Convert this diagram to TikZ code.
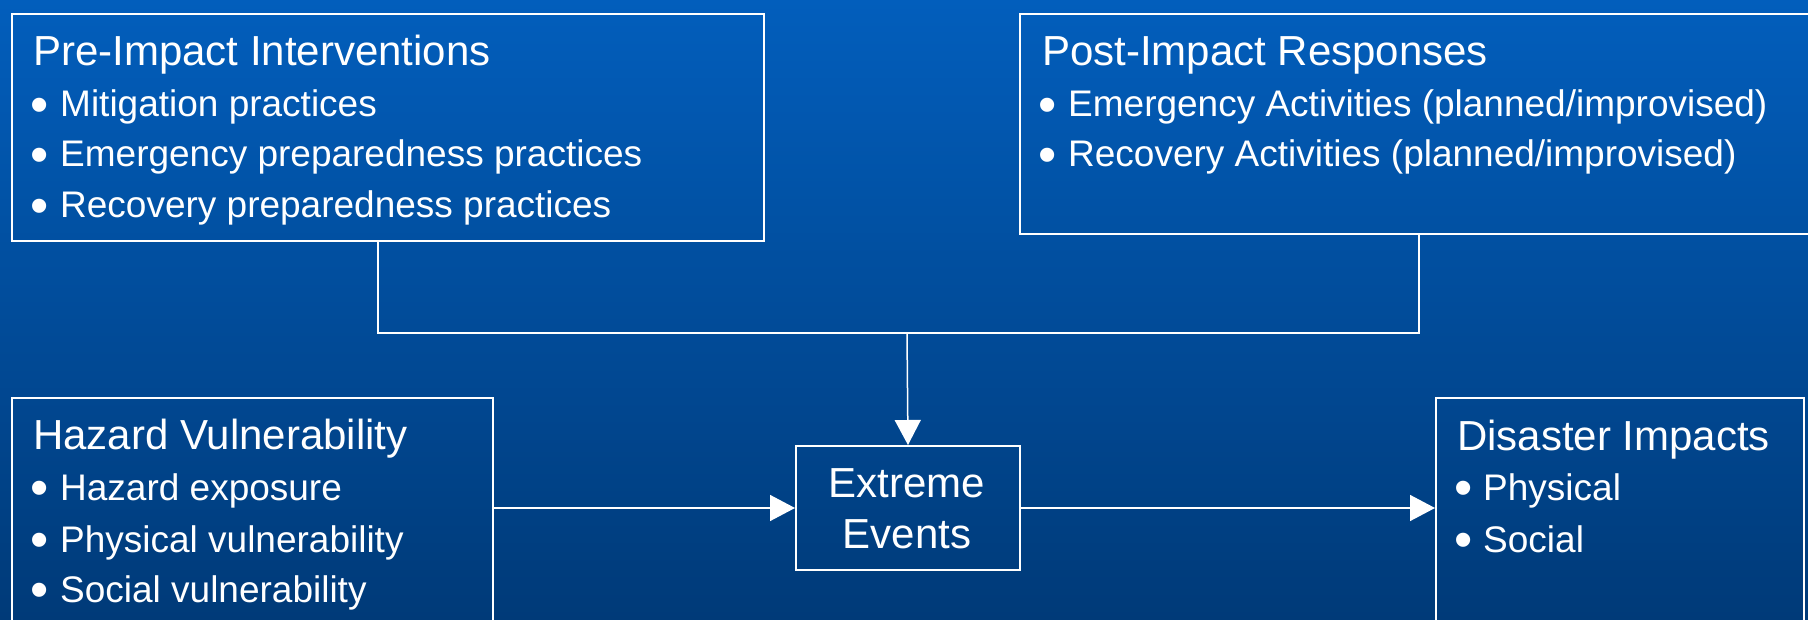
\documentclass[tikz,border=0pt]{standalone}
\usepackage{fontspec}
\setmainfont{Liberation Sans}
\usetikzlibrary{arrows.meta}
\definecolor{bgtop}{RGB}{2,94,188}
\definecolor{bgbot}{RGB}{0,58,120}
\begin{document}
\begin{tikzpicture}[x=1pt,y=-1pt,
  box/.style={draw=white, line width=2pt, inner sep=0pt, anchor=north west},
  ttl/.style={anchor=base west, inner sep=0pt, text=white, font=\fontsize{42}{50}\selectfont},
  itm/.style={anchor=base west, inner sep=0pt, text=white, font=\fontsize{37}{45}\selectfont},
  bul/.style={anchor=base west, inner sep=0pt, text=white, yshift=-5.5pt, xshift=-1.5pt, font=\fontsize{52}{60}\selectfont},
  conn/.style={draw=white, line width=1.5pt},
  arr/.style={conn, -{Triangle[length=25pt,width=26pt]}}
]
\shade[top color=bgtop, bottom color=bgbot] (0,0) rectangle (1808,620);
\useasboundingbox (0,0) rectangle (1808,620);

% boxes
\node[box, minimum width=752pt, minimum height=227pt] (pre) at (10.7,12.7) {};
\node[box, minimum width=795pt, minimum height=220pt] (post) at (1019,12.7) {};
\node[box, minimum width=481pt, minimum height=240pt] (haz) at (10.7,396.7) {};
\node[box, minimum width=224pt, minimum height=124pt] (ext) at (795,445) {};
\node[box, minimum width=368pt, minimum height=240pt] (dis) at (1435,397) {};

% box 1 text
\node[ttl] (preT) at (33,66) {Pre-Impact Interventions};
\node[bul] (preB1) at (32,117) {•};
\node[itm] (preI1) at (60,117) {Mitigation practices};
\node[bul] (preB2) at (32,167) {•};
\node[itm] (preI2) at (60,167) {Emergency preparedness practices};
\node[bul] (preB3) at (32,218) {•};
\node[itm] (preI3) at (60,218) {Recovery preparedness practices};

% box 2 text
\node[ttl] (postT) at (1042,66) {Post-Impact Responses};
\node[bul] (postB1) at (1040,117) {•};
\node[itm] (postI1) at (1068,117) {Emergency Activities (planned/improvised)};
\node[bul] (postB2) at (1040,167) {•};
\node[itm] (postI2) at (1068,167) {Recovery Activities (planned/improvised)};

% box 3 text
\node[ttl] (hazT) at (33,449) {Hazard Vulnerability};
\node[bul] (hazB1) at (32,500) {•};
\node[itm] (hazI1) at (60,500) {Hazard exposure};
\node[bul] (hazB2) at (32,552) {•};
\node[itm] (hazI2) at (60,552) {Physical vulnerability};
\node[bul] (hazB3) at (32,602) {•};
\node[itm] (hazI3) at (60,602) {Social vulnerability};

% box 4 text
\node[ttl, anchor=base] (extA) at (907,497) {Extreme};
\node[ttl, anchor=base] (extB) at (907,548) {Events};

% box 5 text
\node[ttl] (disT) at (1457,450) {Disaster Impacts};
\node[bul] (disB1) at (1456,500) {•};
\node[itm] (disI1) at (1483,500) {Physical};
\node[bul] (disB2) at (1456,552) {•};
\node[itm] (disI2) at (1483,552) {Social};

% connectors
\coordinate (pj) at (378,333);
\coordinate (rj) at (1419,333);
\coordinate (mj) at (907,333);
\draw[conn] (pre.south -| pj) -- (pj) -- (rj) -- (post.south -| rj);
\draw[arr] (mj) -- (ext.north);
\draw[arr] (ext.west -| haz.east) -- (ext.west);
\draw[arr] (ext.east) -- (ext.east -| dis.west);
\end{tikzpicture}
\end{document}
